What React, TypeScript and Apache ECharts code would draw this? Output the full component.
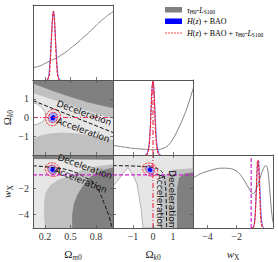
import React, { useEffect, useRef } from "react";
import * as echarts from "echarts";

// ---------- axes ----------
const OM_RANGE = [0.06, 1.0];
const OK_RANGE = [-2, 2];
const W_RANGE = [-5, 0.5];
const OM_TICKS = [0.2, 0.5, 0.8];
const OK_TICKS = [-1, 0, 1];
const W_TICKS = [-4, -2];

// ---------- 1D marginals [x, p/pmax] ----------
const omTau = [[0.06,0.18],[0.1,0.19],[0.15,0.21],[0.2,0.24],[0.25,0.27],[0.3,0.3],[0.35,0.33],[0.4,0.37],[0.45,0.41],[0.5,0.46],[0.55,0.51],[0.6,0.56],[0.65,0.62],[0.7,0.67],[0.75,0.73],[0.8,0.79],[0.85,0.85],[0.9,0.9],[0.95,0.95],[1.0,0.99]];
const omBao = [[0.22,0],[0.24,0.04],[0.25,0.13],[0.26,0.28],[0.27,0.48],[0.28,0.7],[0.29,0.9],[0.3,1.0],[0.31,0.92],[0.32,0.72],[0.33,0.48],[0.34,0.27],[0.35,0.12],[0.36,0.04],[0.38,0]];
const omComb = [[0.23,0],[0.25,0.06],[0.26,0.2],[0.27,0.42],[0.28,0.68],[0.29,0.9],[0.3,1.0],[0.31,0.9],[0.32,0.66],[0.33,0.4],[0.34,0.19],[0.35,0.06],[0.37,0]];

const okTau = [[-2,0.13],[-1.75,0.12],[-1.5,0.11],[-1.25,0.1],[-1,0.09],[-0.75,0.085],[-0.5,0.08],[-0.25,0.075],[0,0.072],[0.25,0.075],[0.5,0.09],[0.75,0.13],[1,0.22],[1.25,0.35],[1.5,0.5],[1.75,0.68],[2,0.9]];
const okBao = [[-0.4,0],[-0.3,0.02],[-0.2,0.15],[-0.15,0.33],[-0.1,0.6],[-0.05,0.88],[0,1.0],[0.05,0.88],[0.1,0.6],[0.15,0.33],[0.2,0.15],[0.3,0.02],[0.4,0]];
const okComb = [[-0.35,0],[-0.25,0.03],[-0.15,0.28],[-0.1,0.58],[-0.05,0.9],[0,1.0],[0.05,0.85],[0.1,0.5],[0.15,0.22],[0.25,0.02],[0.35,0]];

const wTau = [[-5,0.74],[-4.5,0.8],[-4,0.84],[-3.5,0.87],[-3,0.885],[-2.5,0.88],[-2,0.84],[-1.75,0.79],[-1.5,0.71],[-1.25,0.62],[-1.0,0.53],[-0.9,0.51],[-0.75,0.53],[-0.6,0.6],[-0.45,0.7],[-0.3,0.8],[-0.15,0.88],[0,0.92],[0.1,0.9],[0.2,0.75],[0.3,0.5],[0.4,0.25],[0.5,0.08]];
const wBao = [[-0.95,0],[-0.85,0.02],[-0.75,0.14],[-0.7,0.3],[-0.65,0.55],[-0.6,0.8],[-0.55,0.97],[-0.5,1.0],[-0.45,0.85],[-0.4,0.6],[-0.35,0.35],[-0.3,0.16],[-0.2,0.02],[-0.1,0]];
const wComb = [[-0.9,0],[-0.8,0.03],[-0.72,0.2],[-0.66,0.5],[-0.6,0.82],[-0.55,1.0],[-0.5,0.95],[-0.45,0.72],[-0.4,0.42],[-0.34,0.15],[-0.25,0.02],[-0.15,0]];

// ---------- 2D tau_H0-L_S100 regions ----------
const omOkLight = [[0.06,1.3],[0.2,1.1],[0.4,0.8],[0.6,0.5],[0.8,0.2],[1.0,-0.05],[1.0,-1.2],[0.8,-1.0],[0.6,-0.85],[0.4,-0.8],[0.25,-0.85],[0.12,-1.0],[0.06,-1.15]];
const omOkDark = [[0.06,2],[1.0,2],[1.0,0.5],[0.85,0.65],[0.7,0.82],[0.5,1.09],[0.3,1.4],[0.15,1.65],[0.06,1.82]];
const omOkHole = [[0.06,0.78],[0.11,0.72],[0.16,0.55],[0.2,0.3],[0.21,0.05],[0.18,-0.2],[0.12,-0.35],[0.06,-0.4]];

const omWMid = [[0.2,-5],[0.19,-4],[0.19,-3],[0.21,-2.3],[0.26,-1.8],[0.35,-1.4],[0.5,-1.0],[0.65,-0.6],[0.8,-0.35],[1.0,-0.2],[1.0,-5]];
const omWDark = [[0.52,-5],[0.52,-4],[0.54,-3.2],[0.58,-2.5],[0.64,-1.9],[0.7,-1.3],[0.8,-0.85],[0.9,-0.6],[1.0,-0.45],[1.0,-5]];
const omWTop = [[0.06,0.5],[1.0,0.5],[1.0,0.15],[0.06,0.2]];

const okWLight = [[-2,0.5],[2,0.5],[2,-5],[-0.5,-5],[-0.6,-3.5],[-0.8,-1.7],[-1.0,-1.0],[-1.25,-0.45],[-1.5,-0.9],[-1.75,-1.4],[-2,-1.85]];
const okWMid = [[0.35,-5],[0.35,-2],[0.4,-1.4],[0.6,-1.0],[1.0,-0.6],[2,-0.5],[2,-5]];
const okWDark = [[1.2,-5],[1.2,-2],[1.3,-1.2],[1.6,-0.9],[2,-0.8],[2,-5]];

// ---------- H(z)+BAO and combined contours: [cx, cy, rx, ry, tiltDeg] ----------
const omOkBaoOuter = [[0.295,0.0,0.055,0.3,-25]];
const omOkBaoInner = [[0.295,-0.02,0.025,0.14,-25]];
const omOkCombOuter = [[0.295,0.0,0.085,0.45,-25]];
const omOkCombInner = [[0.295,0.0,0.055,0.28,-25]];
const omWBaoOuter = [[0.29,-0.6,0.06,0.35,-30]];
const omWBaoInner = [[0.29,-0.62,0.026,0.16,-30]];
const omWCombOuter = [[0.29,-0.6,0.09,0.5,-30]];
const omWCombInner = [[0.29,-0.6,0.06,0.32,-30]];
const okWBaoOuter = [[-0.15,-0.6,0.26,0.32,-30]];
const okWBaoInner = [[-0.15,-0.62,0.12,0.15,-30]];
const okWCombOuter = [[-0.15,-0.6,0.4,0.46,-30]];
const okWCombInner = [[-0.15,-0.6,0.25,0.29,-30]];

// ---------- q0 = 0 boundaries ----------
const decelOmOk = [[0.06,0.9],[1.0,-0.8]];
const decelOmW = [[0.06,-0.31],[0.295,-0.45],[0.495,-0.67],[0.65,-1.11],[0.79,-1.7],[0.85,-2.43],[0.906,-3.31],[0.953,-4.12],[0.988,-5]];
const decelOkW = [[-2,-0.3],[-1,-0.33],[-0.5,-0.37],[0,-0.45],[0.3,-0.6],[0.5,-0.9],[0.6,-1.5],[0.65,-2.5],[0.68,-5]];

// ---------- reference values ----------
const OK_REF = 0;
const W_REF = -1;

const LABELS = ["Deceleration", "Acceleration"];
// [x, y, rotationDeg, labelIndex]
const omOkLabels = [[0.66,0.24,-20,0],[0.648,-0.67,-20,1]];
const omWLabels = [[0.67,-0.38,-20,0],[0.62,-1.38,-22,1]];
const okWLabels = [[0.95,-2.8,-90,0],[0.35,-3.02,-90,1]];

const SERIF = "'Liberation Serif', 'DejaVu Serif', serif";
const SANS = "'DejaVu Sans', sans-serif";
const FRAME = "#555";
const DARK = "#808080";
const MID = "#c0c0c0";
const LIGHT = "#e6e6e6";
const BLUE = "#0000ff";
const BLUE_L = "#a5a5ff";
const RED = "#ff1a1a";
const REFRED = "#ee3355";
const MAGENTA = "#cc22cc";

const RICH: any = {
  u: { fontFamily: SERIF, fontSize: 11, color: "#222" },
  i: { fontFamily: SERIF, fontStyle: "italic", fontSize: 11, color: "#222" },
  s: { fontFamily: SERIF, fontSize: 7.5, color: "#222", padding: [6, 0, 0, 0] },
  si: { fontFamily: SERIF, fontStyle: "italic", fontSize: 7.5, color: "#222", padding: [6, 0, 0, 0] },
};
const LRICH: any = {
  u: { fontFamily: SERIF, fontSize: 8, color: "#222" },
  i: { fontFamily: SERIF, fontStyle: "italic", fontSize: 8, color: "#222" },
  s: { fontFamily: SERIF, fontSize: 5.5, color: "#222", padding: [4, 0, 0, 0] },
};

const PARAMS: any = {
  om: { range: OM_RANGE, ticks: OM_TICKS, name: "{u|Ω}{si|m}{s|0}" },
  ok: { range: OK_RANGE, ticks: OK_TICKS, name: "{u|Ω}{si|k}{s|0}" },
  w: { range: W_RANGE, ticks: W_TICKS, name: "{i|w}{s|X}" },
};

const PANELS: any[] = [
  { left: 33, top: 5, x: "om", y: null, pdfMax: 1.09, xLab: false, yLab: false },
  { left: 33, top: 80, x: "om", y: "ok", xLab: false, yLab: true },
  { left: 113, top: 80, x: "ok", y: null, pdfMax: 1.02, xLab: false, yLab: false },
  { left: 33, top: 155, x: "om", y: "w", xLab: true, yLab: true },
  { left: 113, top: 155, x: "ok", y: "w", xLab: true, yLab: false },
  { left: 193, top: 155, x: "w", y: null, pdfMax: 1.08, xLab: true, yLab: false },
];

const fmt = (v: number) => (v < 0 ? "\u2212" + String(-v) : String(v));

function buildAxes() {
  const xAxis: any[] = [];
  const yAxis: any[] = [];
  PANELS.forEach((p, g) => {
    const xp = PARAMS[p.x];
    [false, true].forEach((mirror) => {
      xAxis.push({
        type: "value", gridIndex: g, position: mirror ? "top" : "bottom",
        min: xp.range[0], max: xp.range[1], z: 10,
        axisLine: { show: true, onZero: false, lineStyle: { color: FRAME, width: 1 } },
        axisTick: { show: !mirror || !!p.y, inside: true, length: 3, customValues: xp.ticks, lineStyle: { color: FRAME, width: 0.8 } },
        axisLabel: { show: !mirror && p.xLab, customValues: xp.ticks, formatter: fmt, fontFamily: SERIF, fontSize: 10, color: "#333", margin: 3 },
        splitLine: { show: false },
        name: !mirror && p.xLab ? xp.name : "",
        nameLocation: "middle", nameGap: 19,
        nameTextStyle: { rich: RICH },
      });
      if (p.y) {
        const yp = PARAMS[p.y];
        yAxis.push({
          type: "value", gridIndex: g, position: mirror ? "right" : "left",
          min: yp.range[0], max: yp.range[1], z: 10,
          axisLine: { show: true, onZero: false, lineStyle: { color: FRAME, width: 1 } },
          axisTick: { show: true, inside: true, length: 3, customValues: yp.ticks, lineStyle: { color: FRAME, width: 0.8 } },
          axisLabel: { show: !mirror && p.yLab, customValues: yp.ticks, formatter: fmt, fontFamily: SERIF, fontSize: 10, color: "#333", margin: 4 },
          splitLine: { show: false },
          name: !mirror && p.yLab ? yp.name : "",
          nameLocation: "middle", nameGap: 18,
          nameTextStyle: { rich: RICH },
        });
      } else {
        yAxis.push({
          type: "value", gridIndex: g, position: mirror ? "right" : "left",
          min: 0, max: p.pdfMax, z: 10,
          axisLine: { show: true, onZero: false, lineStyle: { color: FRAME, width: 1 } },
          axisTick: { show: false }, axisLabel: { show: false }, splitLine: { show: false },
        });
      }
    });
  });
  return { xAxis, yAxis };
}

function poly(g: number, pts: number[][], fill: string, stroke?: string) {
  return {
    type: "custom", xAxisIndex: g * 2, yAxisIndex: g * 2, clip: true, silent: true, z: 1,
    data: pts, encode: { x: 0, y: 1 },
    renderItem: (params: any, api: any) => {
      if (params.dataIndex !== 0) return null;
      return {
        type: "polygon",
        shape: { points: pts.map((q) => api.coord(q)) },
        style: { fill, stroke: stroke || "none", lineWidth: stroke ? 0.7 : 0 },
      };
    },
  };
}

function ell(g: number, items: number[][], style: any, z: number) {
  return {
    type: "custom", xAxisIndex: g * 2, yAxisIndex: g * 2, clip: true, silent: true, z,
    data: items, encode: { x: 0, y: 1 },
    renderItem: (params: any, api: any) => {
      const c = api.coord([api.value(0), api.value(1)]);
      const s = api.size([api.value(2), api.value(3)]);
      return {
        type: "ellipse", x: c[0], y: c[1], rotation: (api.value(4) * Math.PI) / 180,
        shape: { cx: 0, cy: 0, rx: s[0], ry: s[1] },
        style,
      };
    },
  };
}

function line(g: number, data: number[][], color: string, type: any, width: number, z: number, smooth = false) {
  return {
    type: "line", xAxisIndex: g * 2, yAxisIndex: g * 2, data, showSymbol: false, symbol: "none",
    smooth, silent: true, z, clip: true,
    lineStyle: { color, type, width },
  };
}

function labels(g: number, items: number[][]) {
  return {
    type: "custom", xAxisIndex: g * 2, yAxisIndex: g * 2, clip: false, silent: true, z: 6,
    data: items, encode: { x: 0, y: 1 },
    renderItem: (params: any, api: any) => {
      const c = api.coord([api.value(0), api.value(1)]);
      return {
        type: "text", x: c[0], y: c[1], rotation: (api.value(2) * Math.PI) / 180,
        style: { text: LABELS[api.value(3)], fontFamily: SANS, fontSize: 9, fill: "#111", align: "center", verticalAlign: "middle" },
      };
    },
  };
}

function contourSet(g: number, bo: number[][], bi: number[][], co: number[][], ci: number[][]) {
  return [
    ell(g, bo, { fill: BLUE_L, stroke: "none" }, 3),
    ell(g, bi, { fill: BLUE, stroke: "none" }, 3),
    ell(g, co, { fill: "none", stroke: RED, lineWidth: 0.8, lineDash: [2, 1] }, 4),
    ell(g, ci, { fill: "none", stroke: RED, lineWidth: 0.8, lineDash: [2, 1] }, 4),
  ];
}

export default function App() {
  const ref = useRef<HTMLDivElement>(null);
  useEffect(() => {
    if (!ref.current) return;
    const chart = echarts.init(ref.current, undefined, { renderer: "svg" });
    const { xAxis, yAxis } = buildAxes();
    const grid = PANELS.map((p) => ({ left: p.left, top: p.top, width: 80, height: 75, containLabel: false }));

    const series: any[] = [
      // 1D marginals
      line(0, omTau, DARK, "solid", 1, 3, true),
      line(0, omBao, BLUE, "solid", 0.6, 3, true),
      line(0, omComb, RED, [3, 1], 1.1, 4, true),
      line(2, okTau, DARK, "solid", 1, 3, true),
      line(2, okBao, BLUE, "solid", 0.6, 3, true),
      line(2, okComb, RED, [3, 1], 1.1, 4, true),
      line(5, wTau, DARK, "solid", 1, 3, true),
      line(5, wBao, BLUE, "solid", 0.6, 3, true),
      line(5, wComb, RED, [3, 1], 1.1, 4, true),
      line(2, [[OK_REF, 0], [OK_REF, 1.02]], REFRED, [5, 2, 1, 2], 1.2, 5),
      line(5, [[W_REF, 0], [W_REF, 1.08]], MAGENTA, [4, 2], 1.2, 5),

      // Ωm–Ωk
      poly(1, [[0.06, 2], [1, 2], [1, -2], [0.06, -2]], MID),
      poly(1, omOkLight, LIGHT),
      poly(1, omOkDark, DARK),
      poly(1, omOkHole, "#ffffff", "#999"),
      ...contourSet(1, omOkBaoOuter, omOkBaoInner, omOkCombOuter, omOkCombInner),
      line(1, decelOmOk, "#111", [4, 2], 1, 5),
      line(1, [[0.06, OK_REF], [1.0, OK_REF]], REFRED, [5, 2, 1, 2], 1.2, 5),
      labels(1, omOkLabels),

      // Ωm–w
      poly(3, [[0.06, 0.5], [1, 0.5], [1, -5], [0.06, -5]], LIGHT),
      poly(3, omWMid, MID),
      poly(3, omWDark, DARK),
      poly(3, omWTop, DARK),
      ...contourSet(3, omWBaoOuter, omWBaoInner, omWCombOuter, omWCombInner),
      line(3, decelOmW, "#111", [4, 2], 1, 5, true),
      line(3, [[0.06, W_REF], [1.0, W_REF]], MAGENTA, [4, 2], 1.2, 5),
      labels(3, omWLabels),

      // Ωk–w
      poly(4, okWLight, LIGHT, "#999"),
      poly(4, okWMid, MID),
      poly(4, okWDark, DARK),
      ...contourSet(4, okWBaoOuter, okWBaoInner, okWCombOuter, okWCombInner),
      line(4, decelOkW, "#111", [4, 2], 1, 5, true),
      line(4, [[OK_REF, -5], [OK_REF, 0.5]], REFRED, [5, 2, 1, 2], 1.2, 5),
      line(4, [[-2, W_REF], [2, W_REF]], MAGENTA, [4, 2], 1.2, 5),
      labels(4, okWLabels),
    ];

    const graphic: any[] = [
      { type: "rect", shape: { x: 165, y: 7, width: 17, height: 5.5 }, style: { fill: DARK } },
      { type: "rect", shape: { x: 165, y: 18.5, width: 17, height: 5.5 }, style: { fill: BLUE } },
      { type: "line", shape: { x1: 165, y1: 33, x2: 182, y2: 33 }, style: { stroke: RED, lineWidth: 0.8, lineDash: [2, 1] } },
      { type: "text", x: 187, y: 10, style: { text: "{i|τ}{s|H0}{u|-}{i|L}{s|S100}", rich: LRICH, verticalAlign: "middle" } },
      { type: "text", x: 187, y: 21.5, style: { text: "{i|H}{u|(}{i|z}{u|) + BAO}", rich: LRICH, verticalAlign: "middle" } },
      { type: "text", x: 187, y: 33, style: { text: "{i|H}{u|(}{i|z}{u|) + BAO + }{i|τ}{s|H0}{u|-}{i|L}{s|S100}", rich: LRICH, verticalAlign: "middle" } },
    ];

    chart.setOption({ animation: false, grid, xAxis, yAxis, series, graphic });
    return () => chart.dispose();
  }, []);
  return <div ref={ref} style={{ position: "absolute", left: 0, top: 0, width: 278, height: 262 }} />;
}
